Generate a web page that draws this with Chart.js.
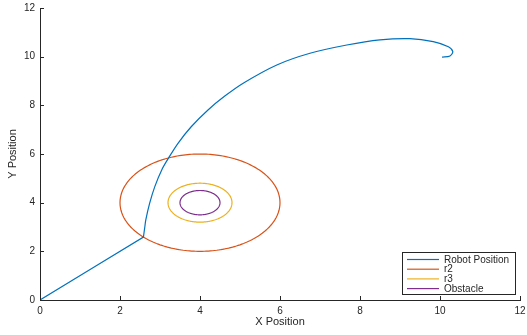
<!DOCTYPE html>
<html>
<head>
<meta charset="utf-8">
<script src="https://cdn.jsdelivr.net/npm/chart.js@4/dist/chart.umd.min.js"></script>
<style>
  html, body { margin: 0; padding: 0; background: #fff; }
  #wrap { width: 527px; height: 335px; position: relative; }
</style>
</head>
<body>
<div id="wrap"><canvas id="trayectoria"></canvas></div>
<script>
// Trayectoria del robot (x, y); el punto de quiebre va repetido para que la curva no lo suavice
const robotX = [0, 2.586, 2.586, 2.62, 2.645, 2.74, 2.87, 3.06, 3.2, 3.45, 3.78, 4.2, 4.62, 5.1, 5.92, 6.75, 7.67, 8.5, 9.25, 9.83, 10.21, 10.32, 10.25, 10.05];
const robotY = [0, 2.586, 2.586, 3.0, 3.29, 3.97, 4.66, 5.4, 5.8, 6.44, 7.12, 7.81, 8.38, 8.93, 9.66, 10.14, 10.48, 10.69, 10.74, 10.62, 10.41, 10.21, 10.03, 9.98];

// Obstáculo y radios de seguridad
const centroObstaculo = [4, 4];
const radioR2 = 2;
const radioR3 = 0.8;
const radioObstaculo = 0.5;

const etiquetas = ['Robot Position', 'r2', 'r3', 'Obstacle'];
const colores = ['#0072BD', '#D95319', '#EDB120', '#7E2F8E'];
const ticksX = [0, 2, 4, 6, 8, 10, 12];
const ticksY = [0, 2, 4, 6, 8, 10, 12];

const EJE = '#262626';
const FUENTE = '"Liberation Sans", Arial, Helvetica, sans-serif';

function circulo(c, r) {
    const pts = [];
    for (let i = 0; i <= 120; i++) {
        const a = 2 * Math.PI * i / 120;
        pts.push({ x: c[0] + r * Math.cos(a), y: c[1] + r * Math.sin(a) });
    }
    return pts;
}

// Marcas de los ejes hacia adentro (estilo matlab)
const marcasInternas = {
    id: 'marcasInternas',
    afterDraw(chart) {
        const { ctx, chartArea: a, scales: { x, y } } = chart;
        ctx.save();
        ctx.strokeStyle = EJE;
        ctx.lineWidth = 1;
        ctx.beginPath();
        ticksX.forEach(v => {
            const px = Math.round(x.getPixelForValue(v)) + 0.5;
            ctx.moveTo(px, a.bottom);
            ctx.lineTo(px, a.bottom - 4);
        });
        ticksY.forEach(v => {
            const py = Math.round(y.getPixelForValue(v)) + 0.5;
            ctx.moveTo(a.left, py);
            ctx.lineTo(a.left + 4, py);
        });
        ctx.stroke();
        ctx.restore();
    }
};

// Leyenda en la esquina inferior derecha
const leyenda = {
    id: 'leyenda',
    afterDraw(chart) {
        const ctx = chart.ctx;
        const bx = 402.5, by = 252.5, bw = 113, bh = 42;
        ctx.save();
        ctx.fillStyle = '#fff';
        ctx.fillRect(bx, by, bw, bh);
        ctx.strokeStyle = EJE;
        ctx.lineWidth = 1;
        ctx.strokeRect(bx, by, bw, bh);
        ctx.font = '10px ' + FUENTE;
        ctx.textBaseline = 'middle';
        ctx.textAlign = 'left';
        etiquetas.forEach((t, i) => {
            const yy = 259.5 + i * 9.7;
            ctx.strokeStyle = colores[i];
            ctx.lineWidth = 1.2;
            ctx.beginPath();
            ctx.moveTo(407, yy);
            ctx.lineTo(439, yy);
            ctx.stroke();
            ctx.fillStyle = EJE;
            ctx.fillText(t, 444, yy + 0.5);
        });
        ctx.restore();
    }
};

const datosRobot = robotX.map((x, i) => ({ x: x, y: robotY[i] }));

new Chart(document.getElementById('trayectoria'), {
    type: 'scatter',
    data: {
        datasets: [
            { label: etiquetas[0], data: datosRobot, borderColor: colores[0], tension: 0.3 },
            { label: etiquetas[1], data: circulo(centroObstaculo, radioR2), borderColor: colores[1] },
            { label: etiquetas[2], data: circulo(centroObstaculo, radioR3), borderColor: colores[2] },
            { label: etiquetas[3], data: circulo(centroObstaculo, radioObstaculo), borderColor: colores[3] }
        ]
    },
    options: {
        responsive: true,
        maintainAspectRatio: false,
        animation: false,
        datasets: {
            // una tensión mínima evita el trazado rápido que aplana los bordes de los círculos
            scatter: { showLine: true, pointRadius: 0, borderWidth: 1.2, fill: false, tension: 0.05 }
        },
        layout: { padding: { top: 8, right: 7, left: 0, bottom: 0 } },
        plugins: { legend: { display: false }, tooltip: { enabled: false } },
        scales: {
            x: {
                type: 'linear', min: 0, max: 12,
                afterBuildTicks: s => { s.ticks = ticksX.map(v => ({ value: v })); },
                afterFit: s => { s.height = 35; s.paddingLeft = 0; s.paddingRight = 0; },
                grid: { display: false, drawTicks: false },
                border: { display: true, color: EJE, width: 1 },
                ticks: { color: EJE, padding: 5, maxRotation: 0, font: { family: FUENTE, size: 10 } },
                title: { display: true, text: 'X Position', color: EJE, padding: { top: 0, bottom: 6 }, font: { family: FUENTE, size: 11 } }
            },
            y: {
                type: 'linear', min: 0, max: 12,
                afterBuildTicks: s => { s.ticks = ticksY.map(v => ({ value: v })); },
                afterFit: s => { s.width = 40; s.paddingTop = 0; s.paddingBottom = 0; },
                grid: { display: false, drawTicks: false },
                border: { display: true, color: EJE, width: 1 },
                ticks: { color: EJE, padding: 5, font: { family: FUENTE, size: 10 } },
                title: { display: true, text: 'Y Position', color: EJE, padding: { top: 6, bottom: 4 }, font: { family: FUENTE, size: 11 } }
            }
        }
    },
    plugins: [marcasInternas, leyenda]
});
</script>
</body>
</html>
